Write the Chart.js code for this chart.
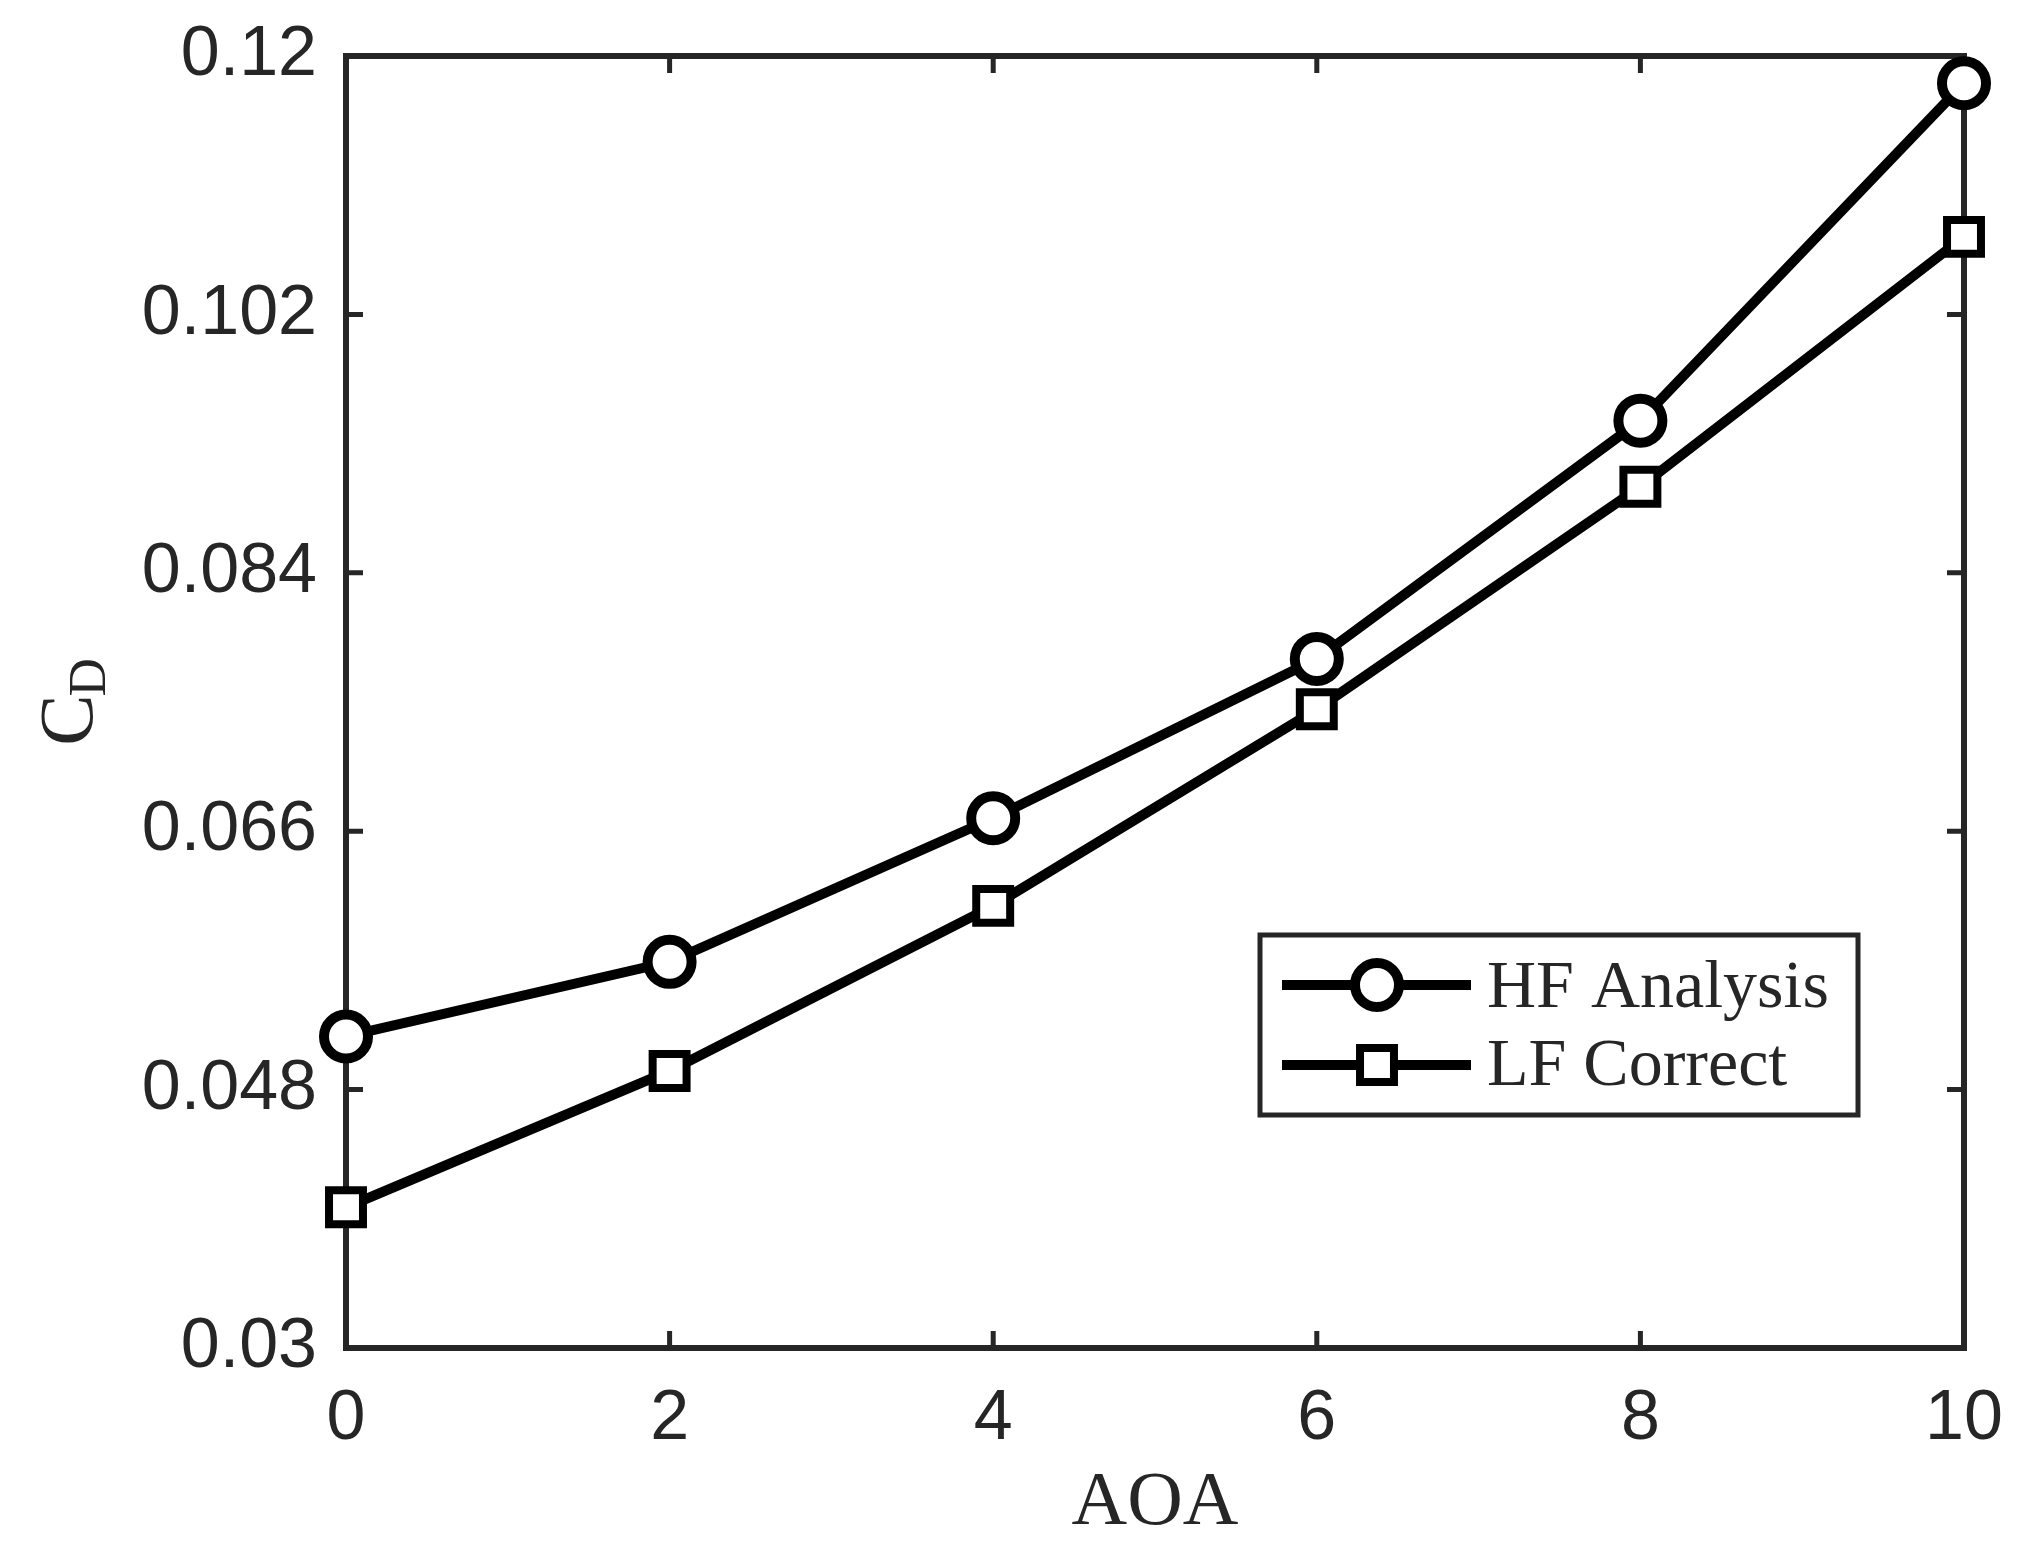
<!DOCTYPE html>
<html>
<head>
<meta charset="utf-8">
<script src="https://cdn.jsdelivr.net/npm/chart.js@4/dist/chart.umd.min.js"></script>
<style>
  html, body { margin: 0; padding: 0; background: #ffffff; }
  canvas { display: block; }
</style>
</head>
<body>
<canvas id="c" width="2030" height="1553"></canvas>
<script>
// ---- data ----
const aoa = [0, 2, 4, 6, 8, 10];
const hfAnalysis = [0.0517, 0.0569, 0.0669, 0.0780, 0.0946, 0.1181];
const lfCorrect = [0.0398, 0.0493, 0.0608, 0.0745, 0.0900, 0.1074];
const xTicks = [0, 2, 4, 6, 8, 10];
const yTicks = [0.03, 0.048, 0.066, 0.084, 0.102, 0.12];
const yTickLabels = ['0.03', '0.048', '0.066', '0.084', '0.102', '0.12'];
const seriesNames = ['HF Analysis', 'LF Correct'];
const xTitle = 'AOA';
const yTitleMain = 'C';
const yTitleSub = 'D';

const INK = '#262626';

const framePlugin = {
  id: 'frame',
  beforeDatasetsDraw(chart) {
    const { ctx, chartArea: a, scales } = chart;
    ctx.save();
    ctx.strokeStyle = INK;
    ctx.lineWidth = 5;
    const tl = 17;
    ctx.beginPath();
    scales.x.ticks.forEach(t => {
      const px = scales.x.getPixelForValue(t.value);
      ctx.moveTo(px, a.bottom); ctx.lineTo(px, a.bottom - tl);
      ctx.moveTo(px, a.top); ctx.lineTo(px, a.top + tl);
    });
    scales.y.ticks.forEach(t => {
      const py = scales.y.getPixelForValue(t.value);
      ctx.moveTo(a.left, py); ctx.lineTo(a.left + tl, py);
      ctx.moveTo(a.right, py); ctx.lineTo(a.right - tl, py);
    });
    ctx.stroke();
    ctx.lineWidth = 6;
    ctx.strokeRect(a.left, a.top, a.right - a.left, a.bottom - a.top);
    ctx.restore();
  },
  afterDraw(chart) {
    const { ctx, chartArea: a } = chart;
    // y-axis title with subscript
    ctx.save();
    ctx.fillStyle = INK;
    const cy = (a.top + a.bottom) / 2;
    ctx.translate(92, cy);
    ctx.rotate(-Math.PI / 2);
    ctx.textBaseline = 'alphabetic';
    ctx.textAlign = 'left';
    ctx.font = '77px "Liberation Serif"';
    const wC = ctx.measureText(yTitleMain).width;
    ctx.font = '53px "Liberation Serif"';
    const wD = ctx.measureText(yTitleSub).width;
    const total = wC + wD - 2;
    ctx.font = '77px "Liberation Serif"';
    ctx.fillText(yTitleMain, -total / 2, 0);
    ctx.font = '53px "Liberation Serif"';
    ctx.fillText(yTitleSub, -total / 2 + wC - 2, 13);
    ctx.restore();
  }
};

const legendPlugin = {
  id: 'boxLegend',
  afterDraw(chart) {
    const { ctx } = chart;
    const box = { l: 1260, t: 935, r: 1858, b: 1115 };
    ctx.save();
    ctx.fillStyle = '#ffffff';
    ctx.fillRect(box.l, box.t, box.r - box.l, box.b - box.t);
    ctx.strokeStyle = INK;
    ctx.lineWidth = 5;
    ctx.strokeRect(box.l, box.t, box.r - box.l, box.b - box.t);
    const rows = [985, 1065];
    const baselines = [1007, 1085];
    chart.data.datasets.forEach((ds, i) => {
      const y = rows[i];
      ctx.strokeStyle = ds.borderColor;
      ctx.lineWidth = ds.borderWidth;
      ctx.beginPath();
      ctx.moveTo(1282, y); ctx.lineTo(1471, y);
      ctx.stroke();
      const mx = 1377;
      ctx.fillStyle = ds.pointBackgroundColor;
      ctx.strokeStyle = ds.pointBorderColor;
      ctx.lineWidth = ds.pointBorderWidth;
      if (Chart.helpers && Chart.helpers.drawPoint) {
        Chart.helpers.drawPoint(ctx, {
          pointStyle: ds.pointStyle, radius: ds.pointRadius,
          rotation: 0, borderWidth: ds.pointBorderWidth
        }, mx, y);
      } else {
        ctx.beginPath();
        if (ds.pointStyle === 'circle') {
          ctx.arc(mx, y, ds.pointRadius, 0, Math.PI * 2);
        } else {
          const s = ds.pointRadius * Math.SQRT1_2;
          ctx.rect(mx - s, y - s, 2 * s, 2 * s);
        }
        ctx.fill(); ctx.stroke();
      }
      ctx.fillStyle = INK;
      ctx.font = '68px "Liberation Serif"';
      ctx.textAlign = 'left';
      ctx.textBaseline = 'alphabetic';
      ctx.fillText(ds.label, 1487, baselines[i]);
    });
    ctx.restore();
  }
};

const toPoints = (ys) => aoa.map((x, i) => ({ x: x, y: ys[i] }));

new Chart(document.getElementById('c'), {
  type: 'line',
  data: {
    datasets: [
      {
        label: seriesNames[0],
        data: toPoints(hfAnalysis),
        borderColor: '#000000',
        borderWidth: 10,
        pointStyle: 'circle',
        pointRadius: 22,
        pointBorderWidth: 10,
        pointBackgroundColor: '#ffffff',
        pointBorderColor: '#000000',
        tension: 0,
        clip: false
      },
      {
        label: seriesNames[1],
        data: toPoints(lfCorrect),
        borderColor: '#000000',
        borderWidth: 10,
        pointStyle: 'rect',
        pointRadius: 24,
        pointBorderWidth: 8,
        pointBackgroundColor: '#ffffff',
        pointBorderColor: '#000000',
        tension: 0,
        clip: false
      }
    ]
  },
  options: {
    responsive: false,
    devicePixelRatio: 1,
    animation: false,
    events: [],
    layout: { padding: { top: 56, right: 66, left: 0, bottom: 0 } },
    plugins: { legend: { display: false }, tooltip: { enabled: false } },
    scales: {
      x: {
        type: 'linear',
        min: 0, max: 10,
        afterBuildTicks: (s) => { s.ticks = xTicks.map(v => ({ value: v })); },
        afterFit: (s) => { s.height = 205; },
        grid: { display: false },
        border: { display: false },
        ticks: {
          color: INK,
          font: { family: 'Liberation Sans', size: 70 },
          padding: 22,
          maxRotation: 0,
          autoSkip: false,
          callback: (v) => String(v)
        },
        title: {
          display: true,
          text: xTitle,
          color: INK,
          font: { family: 'Liberation Serif', size: 77 },
          padding: { top: 0, bottom: 3 }
        }
      },
      y: {
        type: 'linear',
        min: 0.03, max: 0.12,
        afterBuildTicks: (s) => { s.ticks = yTicks.map(v => ({ value: v })); },
        afterFit: (s) => { s.width = 346; },
        grid: { display: false },
        border: { display: false },
        ticks: {
          color: INK,
          font: { family: 'Liberation Sans', size: 70, lineHeight: 0.5 },
          padding: 21,
          autoSkip: false,
          callback: (v, i) => yTickLabels[i]
        }
      }
    }
  },
  plugins: [framePlugin, legendPlugin]
});
</script>
</body>
</html>
